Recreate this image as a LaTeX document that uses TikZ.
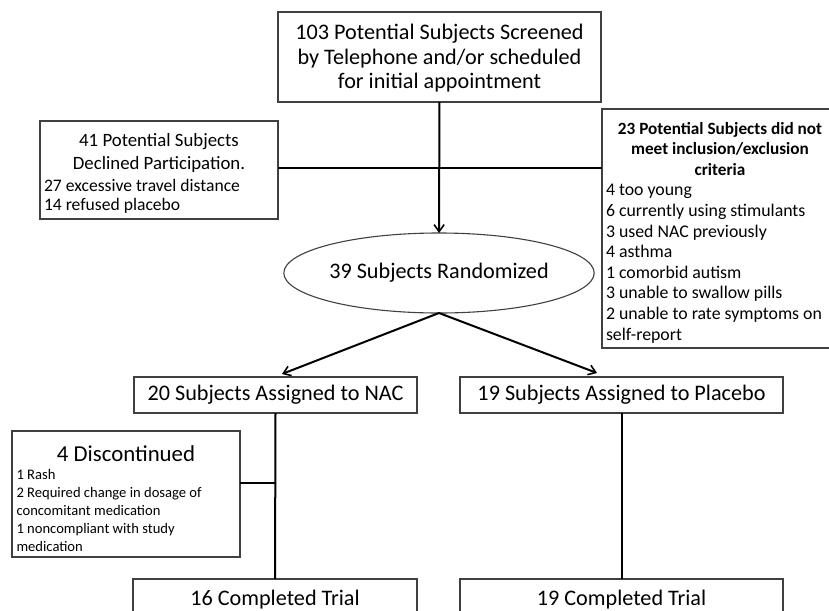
\documentclass[tikz,border=0pt]{standalone}
\usepackage{fontspec}
\setmainfont{Carlito}
\usetikzlibrary{arrows.meta,shapes.geometric,calc}
\definecolor{boxline}{HTML}{404040}
\begin{document}
\begin{tikzpicture}[x=1pt,y=-1pt,
  box/.style={draw=boxline, line width=1.1pt, inner sep=0pt, outer sep=0pt, align=center},
  txt/.style={anchor=base west, inner sep=0pt, outer sep=0pt},
  big/.style={font=\fontsize{22.2}{24.8}\selectfont},
  conn/.style={line width=2pt, black},
  arr/.style={conn, -{Straight Barb[length=7pt,width=10pt,line width=1.6pt]}}]
\useasboundingbox (0,0) rectangle (829,610);
\clip (0,0) rectangle (829,610);

% top box
\node[box, minimum width=323pt, minimum height=90pt] (top) at (439.5,57) {};
\node[txt] (toptxt) at (282,40)
  {\parbox[t]{315pt}{\centering\fontsize{22.2}{24.5}\selectfont
   103 Potential Subjects Screened\\by Telephone and/or scheduled\\for initial appointment}};

% left box (declined)
\node[box, minimum width=238pt, minimum height=98pt] (left) at (159,170) {};
\node[txt] (lefttxt) at (44,146)
  {\parbox[t]{230pt}{{\centering\fontsize{18.8}{23}\selectfont 41 Potential Subjects\\Declined Participation.\par}\vspace{2.5pt}
   {\raggedright\fontsize{17.6}{19.5}\selectfont 27 excessive travel distance\\14 refused placebo\par}}};

% right box (not eligible)
\node[box, minimum width=236pt, minimum height=239pt] (right) at (720,228.5) {};
\node[txt] (righttxt) at (606,134)
  {\parbox[t]{228pt}{{\centering\bfseries\fontsize{17.2}{20.6}\selectfont 23 Potential Subjects did not\\meet inclusion/exclusion\\criteria\par}
   {\raggedright\fontsize{17.8}{20.6}\selectfont 4 too young\\6 currently using stimulants\\3 used NAC previously\\4 asthma\\1 comorbid autism\\3 unable to swallow pills\\2 unable to rate symptoms on\\self-report\par}}};

% ellipse
\node[box, big, ellipse, minimum width=267pt, minimum height=80pt] (ell) at (439,273)
  {39 Subjects Randomized};

% arms
\node[box, big, minimum width=283pt, minimum height=36pt] (nac) at (275.5,395)
  {20 Subjects Assigned to NAC};
\node[box, big, minimum width=323pt, minimum height=36pt] (plc) at (621.5,395)
  {19 Subjects Assigned to Placebo};

% discontinued
\node[box, minimum width=228pt, minimum height=126pt] (disc) at (126,494) {};
\node[txt] (disctxt) at (16.5,461)
  {\parbox[t]{219pt}{{\centering\fontsize{22.8}{24}\selectfont 4 Discontinued\par}\vspace{0.5pt}
   {\raggedright\fontsize{14.6}{18}\selectfont 1 Rash\\2 Required change in dosage of\\concomitant medication\\1 noncompliant with study\\medication\par}}};

% completed
\node[box, big, anchor=north, minimum width=284pt, inner ysep=0pt, text height=26pt, text depth=22pt] (c16) at (275,579)
  {16 Completed Trial};
\node[box, big, anchor=north, minimum width=323pt, inner ysep=0pt, text height=26pt, text depth=22pt] (c19) at (621.5,579)
  {19 Completed Trial};

% connectors
\draw[arr] (top) -- (ell);
\draw[conn] ([yshift=2pt]left.east) -- ([yshift=2pt]left.east -| right.west);
\draw[arr] (ell.south) -- ([xshift=6.5pt,yshift=3pt]nac.north);
\draw[arr] (ell.south) -- ([xshift=-24.5pt,yshift=4pt]plc.north);
\draw[conn] (nac.south) -- (c16.north);
\draw[conn] (plc.south) -- (c19.north);
\draw[conn] ([yshift=11pt]disc.east) -- ([yshift=11pt]disc.east -| nac.south);
\end{tikzpicture}
\end{document}
